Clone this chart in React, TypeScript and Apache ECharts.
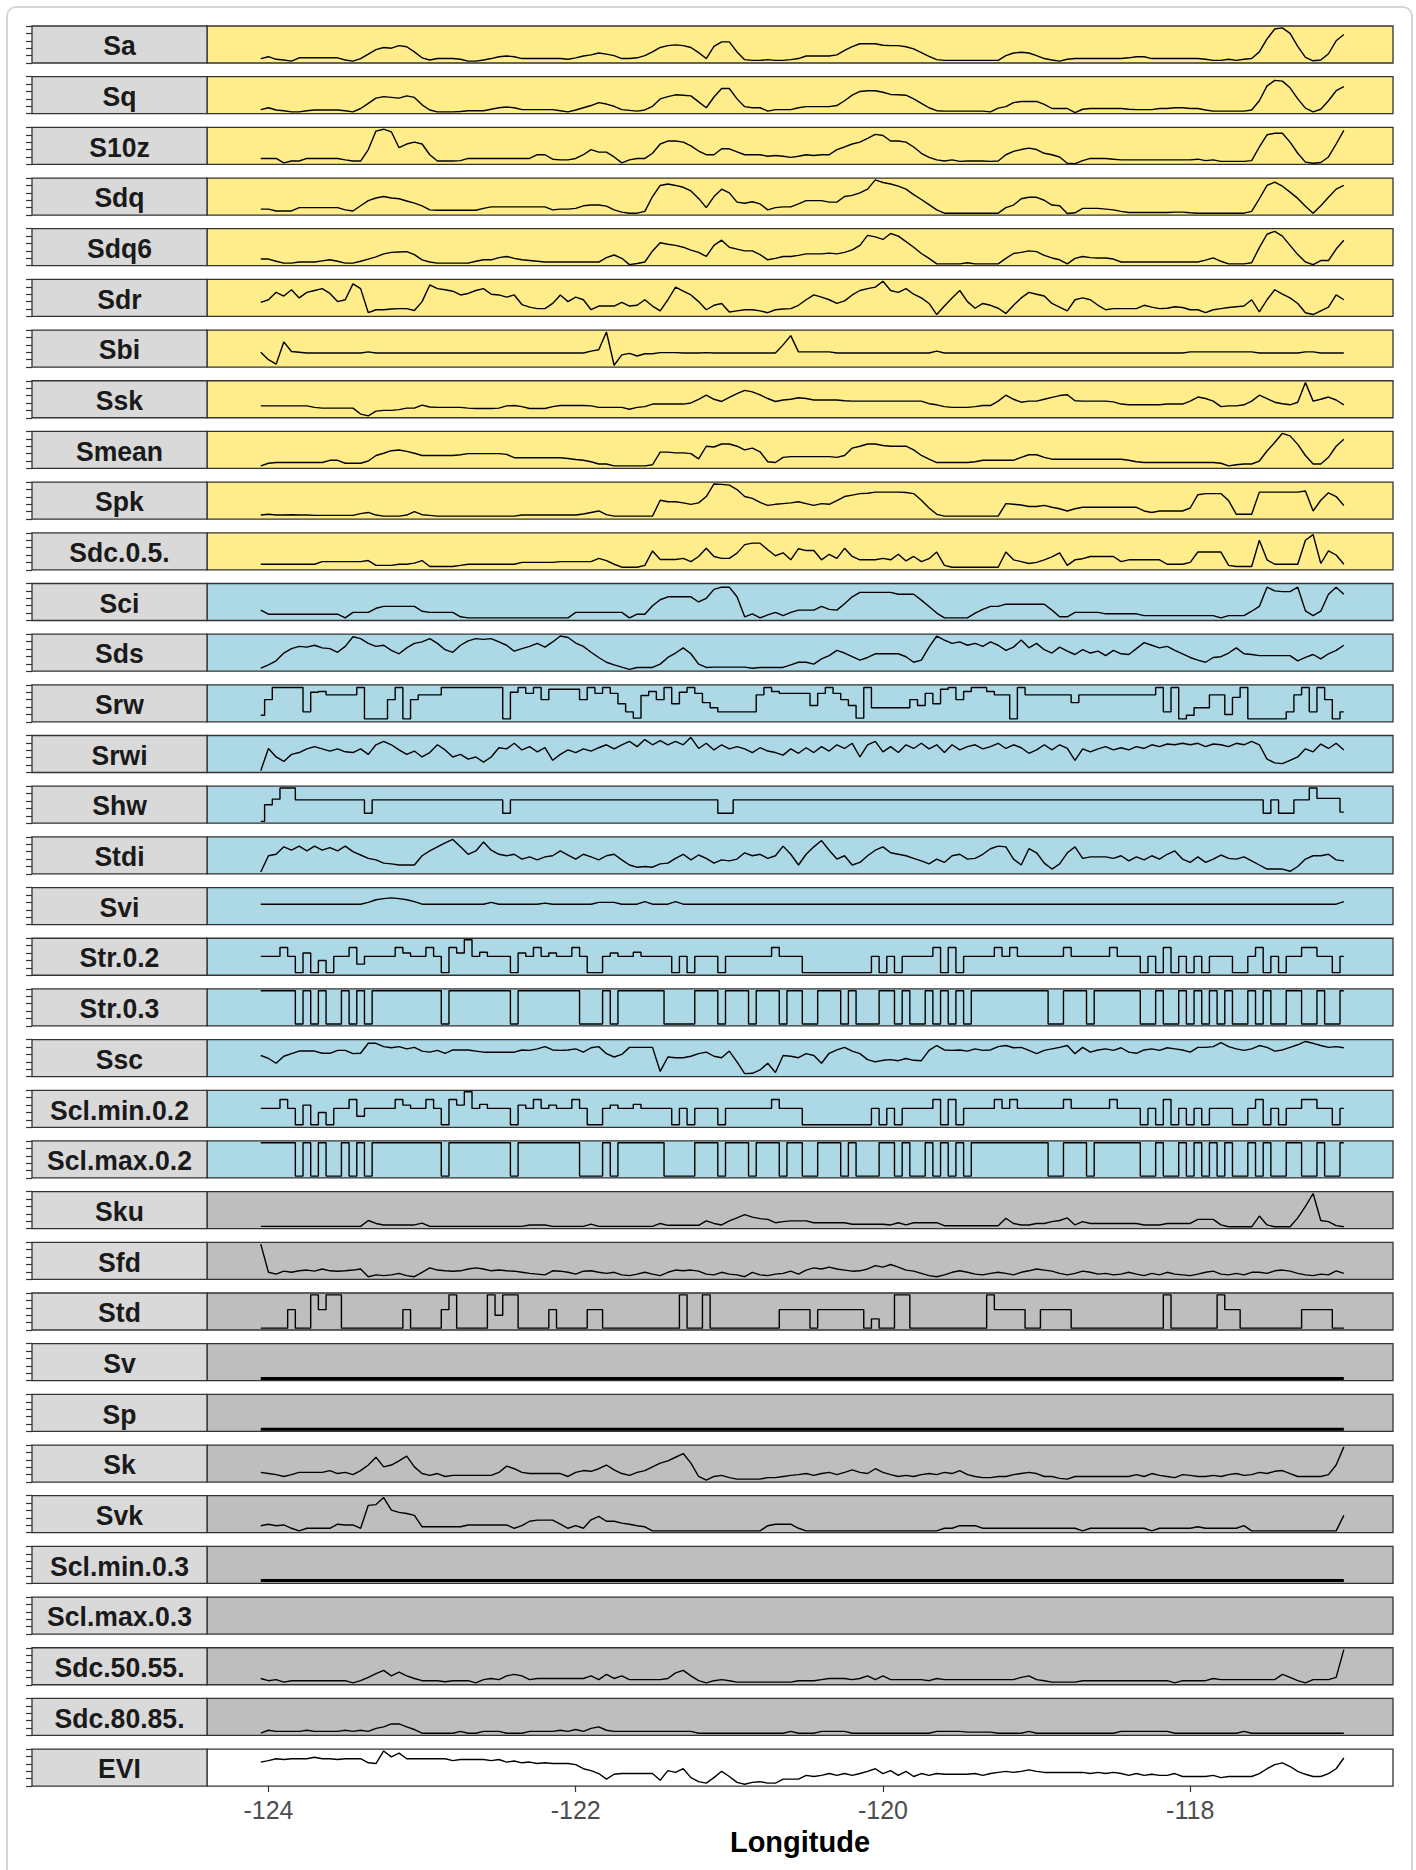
import React, { useEffect, useRef } from "react";
import * as echarts from "echarts";

// Sample longitudes along the transect (degrees)
const lon = [
  -124.05,-124,-123.95,-123.9,-123.85,-123.8,-123.75,-123.7,-123.65,-123.6,
  -123.55,-123.5,-123.45,-123.4,-123.35,-123.3,-123.25,-123.2,-123.15,-123.1,
  -123.05,-123,-122.95,-122.9,-122.85,-122.8,-122.75,-122.7,-122.65,-122.6,
  -122.55,-122.5,-122.45,-122.4,-122.35,-122.3,-122.25,-122.2,-122.15,-122.1,
  -122.05,-122,-121.95,-121.9,-121.85,-121.8,-121.75,-121.7,-121.65,-121.6,
  -121.55,-121.5,-121.45,-121.4,-121.35,-121.3,-121.25,-121.2,-121.15,-121.1,
  -121.05,-121,-120.95,-120.9,-120.85,-120.8,-120.75,-120.7,-120.65,-120.6,
  -120.55,-120.5,-120.45,-120.4,-120.35,-120.3,-120.25,-120.2,-120.15,-120.1,
  -120.05,-120,-119.95,-119.9,-119.85,-119.8,-119.75,-119.7,-119.65,-119.6,
  -119.55,-119.5,-119.45,-119.4,-119.35,-119.3,-119.25,-119.2,-119.15,-119.1,
  -119.05,-119,-118.95,-118.9,-118.85,-118.8,-118.75,-118.7,-118.65,-118.6,
  -118.55,-118.5,-118.45,-118.4,-118.35,-118.3,-118.25,-118.2,-118.15,-118.1,
  -118.05,-118,-117.95,-117.9,-117.85,-117.8,-117.75,-117.7,-117.65,-117.6,
  -117.55,-117.5,-117.45,-117.4,-117.35,-117.3,-117.25,-117.2,-117.15,-117.1,
  -117.05,-117,
];

const lonTicks = [-124, -122, -120, -118];

// Scaled surface metrics (0-100 within each panel)
const sa = [
  12,17,10,8,5,14,14,14,14,14, 14,8,5,12,24,36,42,40,47,44, 30,14,8,12,12,12,10,5,5,8,
  12,17,19,17,12,12,12,12,12,12, 10,14,19,22,27,24,20,12,12,14, 20,30,42,47,49,47,42,28,12,45,
  57,57,30,9,7,7,9,7,7,9, 12,19,19,19,19,22,34,44,52,52, 52,48,47,47,44,38,28,18,9,7,
  7,7,7,7,7,7,7,20,27,29, 27,20,12,8,5,10,12,12,12,12, 12,12,12,14,17,17,12,12,12,12,
  12,12,12,10,7,7,10,7,10,12, 30,65,92,95,80,45,15,6,8,25, 60,77,
];
const sq = [
  11,16,10,8,5,5,8,10,10,10, 10,8,5,14,28,42,46,44,42,48, 44,24,10,5,5,5,6,8,8,8,
  12,16,18,16,11,11,11,11,11,8, 5,10,16,22,30,26,20,11,9,7, 10,20,40,46,51,50,48,32,16,45,
  68,68,40,19,16,16,7,11,11,11, 16,19,19,19,19,22,35,50,60,62, 62,58,52,51,50,40,28,16,8,7,
  7,7,7,7,7,5,15,19,30,33, 33,33,25,14,14,14,3,12,14,14, 14,14,14,12,11,11,11,14,14,16,
  16,14,14,10,7,7,7,7,7,10, 35,75,90,88,70,40,15,5,12,35, 62,73,
];
const s10z = [
  16,16,16,4,9,9,16,16,16,16, 16,12,9,9,40,90,95,88,45,55, 60,55,26,9,9,9,10,16,16,16,
  16,16,16,16,16,16,26,26,14,12, 12,16,26,40,33,33,20,4,12,16, 16,30,55,63,63,60,50,36,26,26,
  42,42,34,26,26,26,22,24,22,19, 22,26,24,26,26,40,47,55,60,70, 81,78,63,63,60,47,30,19,12,9,
  12,8,9,9,9,8,9,26,35,40, 44,40,30,26,20,3,2,10,16,16, 16,14,12,12,12,12,12,12,12,12,
  12,12,14,10,12,8,8,8,8,10, 47,80,84,84,60,30,6,3,5,20, 55,92,
];
const sdq = [
  16,16,11,11,11,20,20,20,20,20, 20,14,11,25,39,46,50,46,44,38, 32,25,14,13,13,13,13,13,13,18,
  22,22,22,22,22,22,22,22,14,16, 16,18,25,27,27,24,14,8,5,5, 10,50,80,84,80,75,65,45,20,50,
  70,60,35,32,36,30,14,20,22,22, 30,39,39,39,35,35,50,53,60,70, 95,88,84,78,70,55,42,28,14,5,
  5,5,5,5,5,5,5,20,27,44, 48,48,40,27,25,4,6,18,18,18, 16,14,10,7,7,7,7,7,7,8,
  8,6,5,5,5,5,5,5,5,10, 44,80,89,78,62,45,24,5,25,48, 70,80,
];
const sdq6 = [
  18,18,12,7,7,10,10,10,13,16, 12,7,7,12,18,24,32,36,37,38, 30,16,10,7,7,7,7,7,12,16,
  16,22,25,20,16,14,12,10,10,10, 10,10,10,10,10,22,29,20,3,6, 10,40,62,58,55,50,42,36,25,55,
  69,50,45,40,40,30,16,20,25,25, 28,32,32,32,34,32,36,43,55,82, 78,71,87,80,65,50,33,20,5,5,
  5,5,8,5,5,5,5,20,33,36, 40,38,28,21,16,5,20,25,22,21, 21,18,10,10,10,10,10,10,10,10,
  10,10,10,15,21,12,5,5,5,8, 49,85,93,80,55,30,10,3,14,14, 45,69,
];
const sdr = [
  38,45,65,55,72,50,65,70,75,62, 40,45,88,75,10,18,18,20,21,21, 16,40,85,75,72,68,58,62,70,75,
  60,58,52,58,32,25,21,21,35,58, 40,52,45,18,28,28,28,38,28,30, 45,28,15,45,79,68,58,40,18,30,
  35,12,15,18,18,15,10,18,20,21, 30,45,58,52,45,35,42,58,70,75, 79,95,70,65,75,60,50,35,5,28,
  50,70,40,22,35,30,22,8,30,50, 65,60,55,35,25,15,45,50,45,30, 18,21,21,21,21,30,25,21,22,26,
  24,18,18,10,18,21,24,26,28,45, 12,45,72,60,50,35,10,5,15,25, 58,45,
];
const sbi = [
  40,20,8,68,42,40,38,38,38,38, 38,38,38,38,41,38,38,38,38,38, 38,38,38,38,38,38,38,38,38,38,
  38,38,38,38,38,38,38,38,38,38, 38,38,38,43,47,95,5,33,37,30, 36,36,39,39,39,38,38,38,39,38,
  38,38,38,38,38,38,38,38,60,85, 41,41,41,41,41,38,38,38,38,38, 38,38,38,38,38,38,38,38,43,38,
  38,38,38,38,38,38,38,38,38,38, 38,38,38,38,38,38,38,38,38,38, 38,38,38,38,38,38,38,38,38,38,
  38,41,41,41,41,41,41,41,41,41, 38,38,38,38,38,38,41,41,38,38, 38,38,
];
const ssk = [
  32,32,32,32,32,32,32,28,26,26, 26,26,26,10,5,18,20,20,22,26, 26,34,29,28,28,28,28,26,25,25,
  25,26,32,33,30,25,25,25,30,33, 33,33,33,32,28,28,28,28,23,28, 30,37,37,37,37,37,40,50,61,50,
  44,55,65,74,70,62,52,44,48,50, 54,52,48,48,48,48,46,45,45,45, 45,45,45,45,45,45,45,38,35,30,
  28,28,28,30,33,33,45,61,50,42, 45,45,50,55,60,62,46,45,45,45, 45,43,37,35,35,35,35,35,37,37,
  37,45,56,52,45,30,32,32,35,45, 61,52,42,38,35,42,95,45,50,56, 48,35,
];
const smean = [
  7,14,16,16,16,16,16,16,16,22, 22,14,14,14,20,35,41,48,50,46, 41,35,35,35,35,35,37,40,40,40,
  40,40,38,29,29,29,29,29,29,29, 27,24,22,18,12,12,7,7,7,7, 7,10,44,44,42,42,40,26,60,58,
  66,66,60,50,55,45,18,16,30,32, 32,32,32,32,32,30,35,55,60,66, 66,62,60,60,60,50,35,25,16,16,
  16,16,16,18,22,22,22,22,22,30, 37,37,30,25,25,25,25,25,25,25, 25,25,25,22,18,16,16,16,16,16,
  16,16,16,16,16,14,7,10,12,12, 20,47,70,95,88,65,35,12,12,30, 60,79,
];
const spk = [
  11,13,11,11,12,11,11,10,10,10, 10,10,10,15,18,11,8,8,8,11, 20,12,10,8,8,8,8,8,8,8,
  8,8,8,8,11,11,11,11,11,11, 11,11,14,18,22,12,8,8,8,8, 8,8,51,47,47,44,40,44,61,95,
  94,92,80,61,56,45,37,40,42,44, 47,42,37,42,40,50,61,65,69,70, 73,73,73,73,72,69,51,30,13,8,
  8,8,8,8,8,8,8,42,40,38, 34,34,37,32,28,22,28,32,32,32, 32,32,32,32,32,22,18,22,22,22,
  22,30,66,69,69,69,50,13,13,13, 73,73,73,73,73,73,76,22,51,71, 61,37,
];
const sdc05 = [
  15,15,15,15,15,15,15,15,22,22, 22,22,22,22,25,12,12,12,15,15, 18,25,9,9,9,9,12,15,15,15,
  15,15,15,15,20,20,20,20,20,22, 22,22,22,22,31,25,15,7,7,7, 12,51,28,28,28,31,22,36,58,36,
  31,31,45,68,72,72,54,38,46,27, 57,52,52,27,42,31,58,36,27,27, 27,31,27,42,24,36,22,30,48,12,
  7,7,7,7,7,7,7,48,27,22, 17,20,27,35,46,12,27,30,36,36, 36,36,22,27,27,27,27,27,15,15,
  15,20,48,48,48,48,12,9,9,9, 80,27,15,15,15,15,80,95,17,51, 40,15,
];
const sci = [
  28,17,17,17,17,17,17,17,17,17, 17,7,22,22,22,33,38,38,38,38, 38,25,22,22,22,22,10,7,7,7,
  7,7,7,7,7,7,7,7,7,7, 7,22,22,22,22,22,22,22,7,17, 17,40,56,64,64,64,64,50,60,84,
  90,90,64,10,18,7,15,22,13,22, 28,28,28,38,30,28,45,64,76,76, 76,76,76,71,71,71,55,38,20,7,
  7,7,7,20,30,38,38,44,44,44, 44,44,44,28,10,10,22,22,22,22, 18,18,18,18,18,13,13,13,13,13,
  13,13,13,13,13,7,13,13,13,25, 38,90,80,78,78,90,26,13,25,71, 90,71,
];
const sds = [
  8,17,28,49,61,67,65,70,63,61, 51,67,93,88,75,67,70,56,47,63, 75,79,88,75,58,51,70,82,88,86,
  88,79,70,54,61,67,75,65,79,95, 91,76,67,51,37,24,17,11,5,10, 10,10,19,37,49,63,47,19,10,11,
  11,11,11,11,8,10,10,10,10,17, 24,24,19,33,42,56,49,39,30,37, 47,47,47,47,39,24,30,65,95,84,
  75,79,70,75,67,79,70,56,65,84, 63,75,58,49,65,54,45,58,49,54, 42,56,47,45,61,77,70,63,67,56,
  47,37,30,24,37,39,49,63,47,45, 42,42,42,42,42,28,37,45,33,47, 56,70,
];
const srw = [
  18,60,93,93,93,93,27,80,82,73, 73,73,73,93,8,8,8,60,93,8, 60,73,73,73,93,93,93,93,93,93,
  93,93,8,80,93,77,93,60,88,88, 88,88,60,93,77,93,77,49,27,10, 71,82,60,93,49,80,93,77,52,38,
  27,27,27,27,27,73,93,82,77,77, 77,77,44,77,93,77,60,44,10,93, 38,38,38,38,38,60,44,77,49,88,
  93,60,82,93,93,82,73,73,8,93, 73,73,73,73,73,73,52,73,73,73, 73,73,73,73,73,73,73,93,27,93,
  8,18,38,38,73,73,20,66,93,8, 8,8,8,8,27,73,93,27,93,60, 8,27,
];
const srwi = [
  5,65,42,30,49,54,64,70,64,58, 64,56,54,64,49,75,84,75,61,49, 58,42,54,75,61,42,49,36,42,28,
  42,67,64,79,61,70,56,67,33,49, 61,54,64,58,67,75,64,75,84,70, 89,75,86,75,84,75,95,65,79,61,
  75,64,70,64,54,67,58,54,47,64, 52,67,54,70,58,75,65,79,42,75, 84,56,70,54,75,65,79,64,75,54,
  75,61,70,75,64,70,79,65,75,67, 52,61,75,61,75,65,33,64,56,64, 70,61,67,61,70,65,75,70,77,75,
  79,75,79,70,77,75,70,79,75,84, 75,36,26,24,33,42,64,56,77,65, 79,61,
];
const shw = [
  5,50,65,95,95,63,63,63,63,63, 63,63,63,63,27,63,63,63,63,63, 63,63,63,63,63,63,63,63,63,63,
  63,63,27,63,63,63,63,63,63,63, 63,63,63,63,63,63,63,63,63,63, 63,63,63,63,63,63,63,63,63,63,
  27,27,63,63,63,63,63,63,63,63, 63,63,63,63,63,63,63,63,63,63, 63,63,63,63,63,63,63,63,63,63,
  63,63,63,63,63,63,63,63,63,63, 63,63,63,63,63,63,63,63,63,63, 63,63,63,63,63,63,63,63,63,63,
  63,63,63,63,63,63,63,63,63,63, 63,27,63,27,27,63,63,95,67,67, 67,30,
];
const stdi = [
  5,49,53,73,64,75,62,75,64,71, 62,75,60,51,42,38,29,27,24,24, 24,49,62,73,84,93,73,53,62,86,
  64,53,49,53,40,46,38,46,49,62, 51,40,53,46,38,49,53,38,24,18, 20,18,27,29,42,53,38,51,42,29,
  38,35,40,57,49,53,42,49,75,53, 24,53,73,90,64,40,49,24,31,49, 64,73,57,53,49,42,35,27,40,31,
  49,53,40,42,53,68,75,73,40,24, 68,57,29,13,27,57,73,42,46,46, 46,42,49,35,46,38,49,40,53,62,
  40,31,46,31,40,51,42,40,46,35, 24,13,13,13,7,20,40,49,49,53, 38,35,
];
const svi = [
  55,55,55,55,55,55,55,55,55,55, 55,55,55,55,60,67,70,72,70,67, 62,55,55,55,55,55,55,55,55,55,
  60,55,55,55,55,55,55,58,55,55, 55,55,55,55,60,60,60,55,55,55, 62,55,55,55,62,55,55,55,55,55,
  55,55,55,55,55,55,55,55,55,55, 55,55,55,55,55,55,55,55,55,55, 55,55,55,55,55,55,55,55,55,55,
  55,55,55,55,55,55,55,55,55,55, 55,55,55,55,55,55,55,55,55,55, 55,55,55,55,55,55,55,55,55,55,
  55,55,55,55,55,55,55,55,55,55, 55,55,55,55,55,55,55,55,55,55, 55,62,
];
const str02 = [
  51,51,51,75,51,7,60,7,40,7, 51,51,75,30,51,51,51,51,75,60, 51,51,75,51,7,75,60,96,51,62,
  51,51,51,7,60,51,75,51,60,51, 51,75,51,7,7,51,60,51,51,62, 51,51,51,51,7,51,7,51,51,51,
  7,51,51,51,51,51,51,75,51,51, 51,7,7,7,7,7,7,7,7,7, 51,7,51,7,51,51,51,51,75,7,
  75,7,51,51,51,51,75,51,75,51, 51,51,51,51,51,75,51,51,51,51, 51,75,51,51,51,7,51,7,75,7,
  51,7,51,7,51,51,51,7,7,51, 75,7,51,7,51,51,75,75,51,51, 7,51,
];
const str03 = [
  95,95,95,95,95,5,95,5,95,5, 5,95,5,95,5,95,95,95,95,95, 95,95,95,95,5,95,95,95,95,95,
  95,95,95,5,95,95,95,95,95,95, 95,95,5,5,5,95,5,95,95,95, 95,95,95,5,5,5,5,95,95,95,
  5,95,95,95,5,95,95,95,5,95, 95,5,5,95,95,95,5,95,5,5, 5,95,95,5,95,5,5,95,5,95,
  5,95,5,95,95,95,95,95,95,95, 95,95,95,5,5,95,95,95,5,95, 95,95,95,95,95,5,5,95,5,5,
  95,5,95,5,95,5,95,5,5,95, 5,95,5,5,95,95,5,5,95,5, 5,95,
];
const ssc = [
  57,49,36,55,62,69,69,69,63,63, 71,71,62,63,90,90,81,78,81,75, 79,69,66,71,63,72,72,72,69,66,
  66,66,66,66,72,71,75,81,72,71, 72,75,66,78,81,62,53,60,79,79, 79,79,14,53,51,51,55,62,66,55,
  51,69,40,8,9,18,36,11,57,55, 51,62,57,36,63,72,79,69,62,46, 40,44,46,43,49,44,43,71,84,72,
  71,72,69,75,71,72,81,84,78,79, 71,62,71,75,79,84,62,79,66,72, 75,71,78,66,63,72,75,71,78,75,
  72,66,79,79,81,92,81,75,71,75, 84,79,69,72,79,86,95,90,84,79, 81,78,
];
const sclMin02 = [
  51,51,51,75,51,7,60,7,40,7, 51,51,75,30,51,51,51,51,75,60, 51,51,75,51,7,75,60,96,51,62,
  51,51,51,7,60,51,75,51,60,51, 51,75,51,7,7,51,60,51,51,62, 51,51,51,51,7,51,7,51,51,51,
  7,51,51,51,51,51,51,75,51,51, 51,7,7,7,7,7,7,7,7,7, 51,7,51,7,51,51,51,51,75,7,
  75,7,51,51,51,51,75,51,75,51, 51,51,51,51,51,75,51,51,51,51, 51,75,51,51,51,7,51,7,75,7,
  51,7,51,7,51,51,51,7,7,51, 75,7,51,7,51,51,75,75,51,51, 7,51,
];
const sclMax02 = [
  95,95,95,95,95,5,95,5,95,5, 5,95,5,95,5,95,95,95,95,95, 95,95,95,95,5,95,95,95,95,95,
  95,95,95,5,95,95,95,95,95,95, 95,95,5,5,5,95,5,95,95,95, 95,95,95,5,5,5,5,95,95,95,
  5,95,95,95,5,95,95,95,5,95, 95,5,5,95,95,95,5,95,5,5, 5,95,95,5,95,5,5,95,5,95,
  5,95,5,95,95,95,95,95,95,95, 95,95,95,5,5,95,95,95,5,95, 95,95,95,95,95,5,5,95,5,5,
  95,5,95,5,95,5,95,5,5,95, 5,95,5,5,95,95,5,5,95,5, 5,95,
];
const sku = [
  6,6,6,6,6,6,6,6,6,6, 6,6,6,6,22,14,10,10,10,10, 10,15,6,6,6,6,6,6,6,6,
  6,6,6,6,6,10,10,10,6,6, 6,6,6,12,6,6,6,6,6,6, 6,6,14,9,9,9,9,9,21,14,
  10,21,29,38,31,27,25,16,19,21, 21,21,16,16,16,16,16,12,12,12, 12,12,10,16,10,16,16,16,16,8,
  8,8,8,8,8,8,8,28,14,10, 10,14,14,19,22,29,10,19,14,14, 14,14,14,14,14,10,10,10,14,14,
  14,14,25,25,25,10,5,5,5,5, 34,10,5,5,5,29,60,95,22,19, 8,5,
];
const sfd = [
  95,19,14,22,19,23,25,22,28,23, 22,23,25,28,7,12,10,12,16,10, 7,19,31,25,23,22,23,28,31,28,
  23,25,23,22,19,16,14,12,23,22, 19,14,22,23,19,16,19,12,10,14, 19,14,10,19,25,23,25,22,14,12,
  19,14,12,7,19,12,10,14,16,22, 14,25,31,28,33,28,25,22,23,28, 37,33,40,33,25,22,16,10,7,12,
  19,23,19,14,12,16,19,16,12,19, 23,28,25,22,16,12,16,22,19,14, 16,12,14,19,14,10,16,12,19,14,
  12,10,14,19,22,14,12,16,12,19, 19,16,23,25,22,16,12,10,14,12, 23,16,
];
const std = [
  5,5,5,5,55,5,5,95,55,95, 95,5,5,5,5,5,5,5,5,55, 5,5,5,5,55,95,5,5,5,5,
  95,40,95,95,5,5,5,5,55,5, 5,5,5,55,55,5,5,5,5,5, 5,5,5,5,5,95,5,5,95,5,
  5,5,5,5,5,5,5,5,55,55, 55,55,5,55,55,55,55,55,55,5, 30,5,5,95,95,5,5,5,5,5,
  5,5,5,5,5,95,55,55,55,55, 5,5,55,55,55,55,5,5,5,5, 5,5,5,5,5,5,5,5,95,5,
  5,5,5,5,5,95,55,55,5,5, 5,5,5,5,5,5,55,55,55,55, 5,5,
];
const sv = [
  6,6,6,6,6,6,6,6,6,6, 6,6,6,6,6,6,6,6,6,6, 6,6,6,6,6,6,6,6,6,6,
  6,6,6,6,6,6,6,6,6,6, 6,6,6,6,6,6,6,6,6,6, 6,6,6,6,6,6,6,6,6,6,
  6,6,6,6,6,6,6,6,6,6, 6,6,6,6,6,6,6,6,6,6, 6,6,6,6,6,6,6,6,6,6,
  6,6,6,6,6,6,6,6,6,6, 6,6,6,6,6,6,6,6,6,6, 6,6,6,6,6,6,6,6,6,6,
  6,6,6,6,6,6,6,6,6,6, 6,6,6,6,6,6,6,6,6,6, 6,6,
];
const sp = [
  6,6,6,6,6,6,6,6,6,6, 6,6,6,6,6,6,6,6,6,6, 6,6,6,6,6,6,6,6,6,6,
  6,6,6,6,6,6,6,6,6,6, 6,6,6,6,6,6,6,6,6,6, 6,6,6,6,6,6,6,6,6,6,
  6,6,6,6,6,6,6,6,6,6, 6,6,6,6,6,6,6,6,6,6, 6,6,6,6,6,6,6,6,6,6,
  6,6,6,6,6,6,6,6,6,6, 6,6,6,6,6,6,6,6,6,6, 6,6,6,6,6,6,6,6,6,6,
  6,6,6,6,6,6,6,6,6,6, 6,6,6,6,6,6,6,6,6,6, 6,6,
];
const sk = [
  26,23,20,15,20,26,26,26,26,31, 23,26,20,31,46,67,41,46,57,70, 41,23,18,23,15,18,18,18,18,18,
  18,26,43,36,26,23,23,23,23,23, 15,26,31,29,36,46,33,23,18,26, 31,41,51,57,67,77,51,15,5,15,
  18,12,8,8,8,8,12,12,15,18, 20,23,18,23,26,20,26,33,26,23, 36,26,20,15,18,15,20,23,20,26,
  23,31,20,15,12,12,15,15,20,23, 26,23,15,15,10,8,15,15,15,15, 15,15,15,15,20,15,23,18,15,12,
  20,18,15,15,18,15,20,23,18,20, 26,23,29,31,23,15,15,15,15,20, 46,95,
];
const svk = [
  19,23,19,21,12,5,12,12,12,12, 23,21,21,12,74,76,95,61,55,52, 47,16,16,16,16,16,16,21,21,21,
  21,21,21,12,19,31,34,34,34,23, 12,19,12,35,44,31,31,26,23,19, 16,5,5,5,5,5,5,5,5,5,
  5,5,5,5,5,5,19,23,23,23, 12,5,5,5,5,5,5,5,5,5, 5,5,5,5,5,5,5,5,5,12,
  12,19,19,19,12,12,12,12,12,12, 12,12,12,12,12,12,12,5,12,12, 12,12,12,12,12,12,5,12,12,12,
  12,12,16,12,12,12,12,12,19,5, 5,5,5,5,5,5,5,5,5,5, 5,47,
];
const sclMin03 = [
  8,8,8,8,8,8,8,8,8,8, 8,8,8,8,8,8,8,8,8,8, 8,8,8,8,8,8,8,8,8,8,
  8,8,8,8,8,8,8,8,8,8, 8,8,8,8,8,8,8,8,8,8, 8,8,8,8,8,8,8,8,8,8,
  8,8,8,8,8,8,8,8,8,8, 8,8,8,8,8,8,8,8,8,8, 8,8,8,8,8,8,8,8,8,8,
  8,8,8,8,8,8,8,8,8,8, 8,8,8,8,8,8,8,8,8,8, 8,8,8,8,8,8,8,8,8,8,
  8,8,8,8,8,8,8,8,8,8, 8,8,8,8,8,8,8,8,8,8, 8,8,
];
const sclMax03: number[] = [];
const sdc5055 = [
  17,11,14,7,11,11,11,11,11,11, 11,11,5,11,20,30,39,24,34,24, 17,11,11,11,8,11,11,11,5,14,
  17,14,24,28,24,14,17,17,17,17, 17,17,17,24,14,28,17,24,14,14, 14,14,14,17,32,39,24,11,5,11,
  14,11,7,7,7,7,7,7,7,7, 11,11,11,14,17,17,17,14,17,24, 14,24,14,14,14,14,14,11,17,14,
  14,14,14,14,14,14,14,14,14,20, 24,14,11,7,7,7,7,11,11,11, 11,11,11,11,11,11,11,11,11,5,
  11,11,11,11,17,14,14,14,14,14, 14,14,14,28,20,11,5,14,14,14, 20,95,
];
const sdc8085 = [
  6,14,11,11,11,11,14,11,11,11, 11,14,11,14,11,19,23,31,31,23, 16,6,6,6,6,6,11,6,6,11,
  11,11,6,6,6,11,11,11,11,14, 11,16,11,19,23,14,11,11,11,11, 11,11,11,11,11,11,11,6,6,6,
  6,6,6,6,6,6,6,6,6,11, 6,6,6,11,11,11,11,6,6,6, 6,6,6,6,6,6,6,6,11,11,
  11,11,9,9,9,9,6,6,6,6, 11,6,6,6,6,6,6,6,6,6, 6,6,11,11,11,11,11,11,11,6,
  6,6,6,6,6,6,6,6,11,6, 6,6,6,6,6,6,6,6,6,6, 6,6,
];
const evi = [
  65,69,74,72,74,74,74,78,74,74, 72,74,74,74,63,61,95,79,89,74, 74,74,74,74,74,69,72,72,72,72,
  69,72,65,68,63,65,61,63,61,61, 61,58,47,42,34,19,32,34,34,34, 34,34,16,42,37,47,23,12,8,23,
  40,26,10,5,10,12,8,8,19,19, 19,29,26,29,34,29,34,29,34,40, 47,34,42,29,40,26,34,29,34,32,
  32,32,32,34,29,34,37,40,37,40, 44,40,37,37,37,37,37,37,34,37, 34,37,34,29,34,29,32,29,29,34,
  26,26,26,26,29,23,26,26,26,26, 34,47,58,63,53,40,32,26,26,34, 47,76,
];

type Panel = { name: string; values: number[]; group: "surface" | "texture" | "other" | "index"; shape?: "step" | "bold" };

const panels: Panel[] = [
  { name: "Sa", values: sa, group: "surface" },
  { name: "Sq", values: sq, group: "surface" },
  { name: "S10z", values: s10z, group: "surface" },
  { name: "Sdq", values: sdq, group: "surface" },
  { name: "Sdq6", values: sdq6, group: "surface" },
  { name: "Sdr", values: sdr, group: "surface" },
  { name: "Sbi", values: sbi, group: "surface" },
  { name: "Ssk", values: ssk, group: "surface" },
  { name: "Smean", values: smean, group: "surface" },
  { name: "Spk", values: spk, group: "surface" },
  { name: "Sdc.0.5.", values: sdc05, group: "surface" },
  { name: "Sci", values: sci, group: "texture" },
  { name: "Sds", values: sds, group: "texture" },
  { name: "Srw", values: srw, group: "texture", shape: "step" },
  { name: "Srwi", values: srwi, group: "texture" },
  { name: "Shw", values: shw, group: "texture", shape: "step" },
  { name: "Stdi", values: stdi, group: "texture" },
  { name: "Svi", values: svi, group: "texture" },
  { name: "Str.0.2", values: str02, group: "texture", shape: "step" },
  { name: "Str.0.3", values: str03, group: "texture", shape: "step" },
  { name: "Ssc", values: ssc, group: "texture" },
  { name: "Scl.min.0.2", values: sclMin02, group: "texture", shape: "step" },
  { name: "Scl.max.0.2", values: sclMax02, group: "texture", shape: "step" },
  { name: "Sku", values: sku, group: "other" },
  { name: "Sfd", values: sfd, group: "other" },
  { name: "Std", values: std, group: "other", shape: "step" },
  { name: "Sv", values: sv, group: "other", shape: "bold" },
  { name: "Sp", values: sp, group: "other", shape: "bold" },
  { name: "Sk", values: sk, group: "other" },
  { name: "Svk", values: svk, group: "other" },
  { name: "Scl.min.0.3", values: sclMin03, group: "other", shape: "bold" },
  { name: "Scl.max.0.3", values: sclMax03, group: "other" },
  { name: "Sdc.50.55.", values: sdc5055, group: "other" },
  { name: "Sdc.80.85.", values: sdc8085, group: "other" },
  { name: "EVI", values: evi, group: "index" },
];

const groupFill: Record<Panel["group"], string> = {
  surface: "#FFEC8B",
  texture: "#ADD8E6",
  other: "#BEBEBE",
  index: "#FFFFFF",
};

const W = 1416;
const H = 1870;
const STRIP_LEFT = 32;
const PLOT_LEFT = 207;
const PLOT_RIGHT = 1393;
const TOP0 = 26;
const PITCH = 50.68;
const PANEL_H = 37;
const FONT = '"Liberation Sans", Arial, Helvetica, sans-serif';
const EDGE = "#333333";

function buildOption(): echarts.EChartsOption {
  const last = panels.length - 1;
  const grid: any[] = [];
  const xAxis: any[] = [];
  const yAxis: any[] = [];
  const series: any[] = [];
  const graphic: any[] = [
    {
      type: "rect",
      shape: { x: 7, y: 7, width: 1405, height: 1900, r: 9 },
      style: { fill: "none", stroke: "#D6D6D6", lineWidth: 2 },
      silent: true,
      z: -10,
    },
  ];

  panels.forEach((p, k) => {
    const top = TOP0 + k * PITCH;
    grid.push({
      left: PLOT_LEFT,
      top,
      width: PLOT_RIGHT - PLOT_LEFT,
      height: PANEL_H,
      show: true,
      backgroundColor: groupFill[p.group],
      borderColor: EDGE,
      borderWidth: 1.3,
      containLabel: false,
      outerBoundsMode: "none",
    });
    const isLast = k === last;
    xAxis.push({
      gridIndex: k,
      type: "value",
      min: -124.4,
      max: -116.68,
      show: isLast,
      axisLine: { show: false },
      splitLine: { show: false },
      axisTick: isLast
        ? { show: true, length: 6, customValues: lonTicks, lineStyle: { color: EDGE, width: 1.2 } }
        : { show: false },
      axisLabel: isLast
        ? { show: true, customValues: lonTicks, color: "#4D4D4D", fontSize: 25, fontFamily: FONT, margin: 11 }
        : { show: false },
      name: isLast ? "Longitude" : "",
      nameLocation: "middle",
      nameGap: 41,
      nameTextStyle: { color: "#000", fontSize: 29, fontWeight: "bold", fontFamily: FONT },
    });
    yAxis.push({
      gridIndex: k,
      type: "value",
      min: 0,
      max: 100,
      interval: 20,
      position: "left",
      offset: PLOT_LEFT - STRIP_LEFT,
      axisLine: { show: false },
      axisTick: { show: true, length: 6, lineStyle: { color: EDGE, width: 1.2 } },
      axisLabel: { show: false },
      splitLine: { show: false },
    });
    series.push({
      type: "line",
      name: p.name,
      xAxisIndex: k,
      yAxisIndex: k,
      data: p.values.map((v, j) => [lon[j], v]),
      showSymbol: false,
      symbol: "none",
      step: p.shape === "step" ? "middle" : false,
      lineStyle: { color: "#000", width: p.shape === "bold" ? 3 : 1.4 },
      silent: true,
      clip: true,
    });
    graphic.push({
      type: "rect",
      shape: { x: STRIP_LEFT, y: top, width: PLOT_LEFT - STRIP_LEFT, height: PANEL_H },
      style: { fill: "#D9D9D9", stroke: EDGE, lineWidth: 1.3 },
      silent: true,
      z: 5,
    });
    graphic.push({
      type: "text",
      x: (STRIP_LEFT + PLOT_LEFT) / 2,
      y: top + PANEL_H / 2 + 1,
      scaleX: 0.95,
      style: {
        text: p.name,
        fill: "#1A1A1A",
        fontSize: 28,
        fontWeight: "bold",
        fontFamily: FONT,
        align: "center",
        verticalAlign: "middle",
        textAlign: "center",
        textVerticalAlign: "middle",
      },
      silent: true,
      z: 6,
    });
  });

  return {
    animation: false,
    backgroundColor: "#FFFFFF",
    textStyle: { fontFamily: FONT },
    grid,
    xAxis,
    yAxis,
    series,
    graphic,
  } as any;
}

export default function App() {
  const ref = useRef<HTMLDivElement>(null);
  useEffect(() => {
    if (!ref.current) return;
    const chart = echarts.init(ref.current, undefined, { renderer: "svg" });
    chart.setOption(buildOption());
    return () => chart.dispose();
  }, []);
  return (
    <div
      ref={ref}
      style={{ position: "absolute", left: 0, top: 0, width: W, height: H }}
    />
  );
}
